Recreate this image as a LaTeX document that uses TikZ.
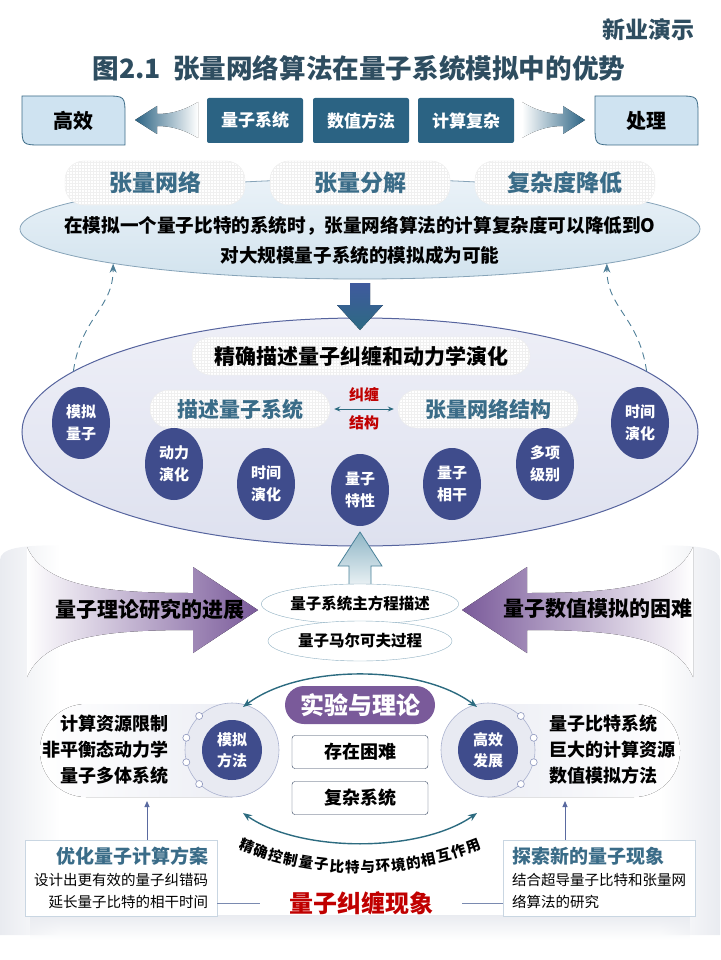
\documentclass[tikz,border=0pt]{standalone}
\usepackage{fontspec}
\setmainfont{Noto Sans CJK SC}
\usetikzlibrary{shapes.geometric,arrows.meta,patterns,positioning,fadings}
\definecolor{slate}{HTML}{2E4D60}
\definecolor{steel}{HTML}{2B6383}
\definecolor{leafblue}{HTML}{CFE3F1}
\definecolor{leafline}{HTML}{3B6A86}
\definecolor{pilltxt}{HTML}{3A6C88}
\definecolor{navy}{HTML}{3F4C8C}
\definecolor{plum}{HTML}{7A5A9A}
\definecolor{arcteal}{HTML}{2C6B80}
\definecolor{deepred}{HTML}{C00000}
\definecolor{ringfill}{HTML}{E8EAF2}
\definecolor{ringline}{HTML}{AAB2CF}
\definecolor{dotline}{HTML}{8D96BD}
\definecolor{ovalline}{HTML}{8FB0C2}
\definecolor{boxline}{HTML}{2D3E5A}
\definecolor{noteline}{HTML}{C9D6E2}
\definecolor{dashblue}{HTML}{4F7F98}
\definecolor{arrblue}{HTML}{5A6AA0}
\definecolor{linkblue}{HTML}{7A8AB0}
\definecolor{tenstop}{HTML}{EAF2F8}
\definecolor{tensbot}{HTML}{D2E3EE}
\definecolor{tensline}{HTML}{86A3B8}
\definecolor{dyntop}{HTML}{EEEFF7}
\definecolor{dynbot}{HTML}{DEE1EF}
\definecolor{dynline}{HTML}{56649E}
\definecolor{downtop}{HTML}{3F5A9E}
\definecolor{downbot}{HTML}{2D6A82}
\definecolor{uptop}{HTML}{8FB6C6}
\definecolor{upline}{HTML}{4A8299}
\definecolor{haze}{HTML}{E9EBF0}
\newcommand{\fsz}[2]{\fontsize{#1}{#2}\selectfont}

\begin{document}
\begin{tikzpicture}[x=1pt, y=-1pt,
  darkbox/.style={fill=steel, text=white, minimum width=96pt, minimum height=45pt,
    rounded corners=2pt, inner sep=0pt, font=\fsz{17}{20}\bfseries},
  pill/.style={rounded corners=19pt, draw=black!8, fill=white,
    postaction={pattern=grid, pattern color=black!6}, inner sep=0pt},
  circ/.style={ellipse, fill=navy, text=white, minimum width=58pt, minimum height=72pt,
    inner sep=0pt, align=center, font=\fsz{15}{22}\bfseries},
  oval/.style={ellipse, draw=ovalline, fill=white, minimum width=184pt, minimum height=40pt,
    inner sep=0pt, font=\fsz{15.5}{18}\bfseries},
  ring/.style={circle, fill=ringfill, draw=ringline, line width=0.6pt, minimum size=94pt, inner sep=0pt},
  dot/.style={circle, draw=dotline, fill=white, line width=0.6pt, minimum size=7pt, inner sep=0pt},
  smallbox/.style={draw=boxline, fill=white, rounded corners=3pt, minimum width=136pt,
    minimum height=33pt, inner sep=0pt, font=\fsz{18}{20}\bfseries},
  notebox/.style={draw=noteline, fill=white, line width=0.8pt, minimum width=192pt,
    minimum height=76pt, inner xsep=9pt, font=\fsz{14.5}{22}},
  dasharr/.style={draw=dashblue, dash pattern=on 7pt off 5pt, line width=0.9pt,
    -{Stealth[length=9pt,width=7pt]}},
  arcarr/.style={draw=arcteal, line width=1.4pt,
    {Stealth[length=9pt,width=7pt]}-{Stealth[length=9pt,width=7pt]}},
  uparr/.style={draw=arrblue, line width=0.9pt, -{Triangle[length=6pt,width=5pt]}},
  link/.style={draw=linkblue, line width=0.9pt}
]
\useasboundingbox (0,0) rectangle (720,960);

\newcommand\leafnode[3]{%
  \draw[fill=leafblue, draw=leafline, line width=0.8pt] ({#2-51.5},96) -- ({#2+31.5},96)
    .. controls ({#2+51.5},96) .. ({#2+51.5},116) -- ({#2+51.5},145) -- ({#2-31.5},145)
    .. controls ({#2-51.5},145) .. ({#2-51.5},125) -- cycle;
  \node[font=\fsz{20}{24}\bfseries] (#1) at (#2,120.5) {#3};}

%% lower background haze
\fill[haze, path fading=east] (0,560) .. controls (0,548) and (20,545) .. (60,545) -- (60,935) -- (0,935) -- cycle;
\fill[haze, path fading=west] (720,560) .. controls (720,548) and (700,545) .. (660,545) -- (660,935) -- (720,935) -- cycle;
\fill[haze, path fading=south] (30,915) rectangle (690,940);

%% title
\node[font=\fsz{23}{26}\bfseries, text=slate] (brand) at (648,30) {新业演示};
\node[font=\fsz{26.6}{30}\bfseries, text=slate] (title) at (359,68) {图2.1\ \ 张量网络算法在量子系统模拟中的优势};

%% top row
\leafnode{eff}{73.5}{高效}
\leafnode{proc}{646.5}{处理}
\node[darkbox] (qsys) at (255,120.5) {量子系统};
\node[darkbox] (nmeth) at (361,120.5) {数值方法};
\node[darkbox] (ccomp) at (466,120.5) {计算复杂};
\fill[left color=steel, middle color=steel!85, right color=white] (135,120) -- (157,106) -- (157,114)
  .. controls (175,114) and (188,108) .. (198,102) -- (198,138)
  .. controls (188,132) and (175,126) .. (157,126) -- (157,134) -- cycle; % to eff
\fill[left color=white, middle color=steel!85, right color=steel] (585,120) -- (563,106) -- (563,114)
  .. controls (545,114) and (532,108) .. (522,102) -- (522,138)
  .. controls (532,132) and (545,126) .. (563,126) -- (563,134) -- cycle; % to proc

%% tensor ellipse
\node[ellipse, minimum width=680pt, minimum height=100pt, top color=tenstop,
  bottom color=tensbot, draw=tensline, line width=0.8pt] (tens) at (360,229) {};
\node[pill, minimum width=180pt, minimum height=44pt, text=pilltxt, font=\fsz{23}{26}\bfseries] (tnet) at (155,183) {张量网络};
\node[pill, minimum width=180pt, minimum height=44pt, text=pilltxt, font=\fsz{23}{26}\bfseries] (tdec) at (360,183) {张量分解};
\node[pill, minimum width=180pt, minimum height=44pt, text=pilltxt, font=\fsz{23}{26}\bfseries] (cred) at (565,183) {复杂度降低};
\node[font=\fsz{18.6}{30}\bfseries, align=center] (tenstxt) at (360,240)
  {在模拟一个量子比特的系统时，张量网络算法的计算复杂度可以降低到O\\对大规模量子系统的模拟成为可能};

%% dynamics ellipse
\node[ellipse, minimum width=676pt, minimum height=228pt, top color=dyntop,
  bottom color=dynbot, draw=dynline, line width=1pt] (dyn) at (360,432) {};
\draw[dasharr] (dyn.168) .. controls +(8,-55) and +(0,45) .. (tens.188); % up left
\draw[dasharr] (dyn.12) .. controls +(-8,-55) and +(0,45) .. (tens.352); % up right
\fill[top color=downtop, bottom color=downbot] (350,283) -- (370,283) -- (370,305)
  -- (383,305) -- (360,330) -- (337,305) -- (350,305) -- cycle; % tens -> dyn

\node[pill, minimum width=338pt, minimum height=38pt, font=\fsz{21}{24}\bfseries] (exact) at (361,356) {精确描述量子纠缠和动力学演化};
\node[pill, minimum width=180pt, minimum height=38pt, text=pilltxt, font=\fsz{21}{24}\bfseries] (desc) at (240,409) {描述量子系统};
\node[pill, minimum width=180pt, minimum height=38pt, text=pilltxt, font=\fsz{21}{24}\bfseries] (tstr) at (488,409) {张量网络结构};
\draw[draw=arcteal, line width=1pt, {Stealth[length=6pt,width=5pt]}-{Stealth[length=6pt,width=5pt]},
  shorten <=4pt, shorten >=4pt] (desc.east) -- node[above=3pt, text=deepred, font=\fsz{15}{16}\bfseries] (entl) {纠缠}
  node[below=3pt, text=deepred, font=\fsz{15}{16}\bfseries] (strl) {结构} (tstr.west);

\foreach \nm/\px/\py/\txt in {sq/81/423/{模拟\\量子}, de/174/464/{动力\\演化}, te/266/484/{时间\\演化},
  qp/360/490/{量子\\特性}, qc/452/484/{量子\\相干}, ml/545/464/{多项\\级别}, tr/640/423/{时间\\演化}}
  \node[circ] (\nm) at (\px,\py) {\txt};

%% middle arrows
\draw[top color=uptop, bottom color=white, draw=upline, line width=0.8pt]
  (349,598) -- (349,566) -- (338,566) -- (360,532) -- (382,566) -- (371,566) -- (371,598) -- cycle; % up to dyn
\fill[left color=white, right color=plum] (27,547) .. controls (45,588) and (110,593) .. (193,593)
  -- (193,567) -- (258,610) -- (193,653) -- (193,630) .. controls (110,630) and (45,635) .. (27,677) -- cycle;
\fill[left color=plum, right color=white] (693,547) .. controls (675,588) and (610,593) .. (527,593)
  -- (527,567) -- (462,610) -- (527,653) -- (527,630) .. controls (610,630) and (675,635) .. (693,677) -- cycle;
\node[font=\fsz{21}{24}\bfseries] (theory) at (150,609) {量子理论研究的进展};
\node[font=\fsz{21}{24}\bfseries] (numer) at (598,609) {量子数值模拟的困难};
\node[oval] (master) at (360,604) {量子系统主方程描述};
\node[oval] (markov) at (360,641) {量子马尔可夫过程};

%% lower panels
\fill[left color=white, right color=ringfill, rounded corners=46pt] (40,704) rectangle (278,797);
\fill[left color=ringfill, right color=white, rounded corners=46pt] (442,704) rectangle (680,797);
\node[ring] (lring) at (232,750) {};
\node[ring] (rring) at (488,750) {};
\node[circle, fill=navy, text=white, minimum size=60pt, inner sep=0pt, align=center,
  font=\fsz{15}{21}\bfseries] (simm) at (232,750) {模拟\\方法};
\node[circle, fill=navy, text=white, minimum size=60pt, inner sep=0pt, align=center,
  font=\fsz{15}{21}\bfseries] (effd) at (488,750) {高效\\发展};
\foreach \a in {134,165,195,226} \node[dot] (ld\a) at (lring.\a) {};
\foreach \a in {46,15,-15,-46} \node[dot] (rd\a) at (rring.\a) {};
\node[font=\fsz{18}{26}\bfseries, align=right, anchor=east] (lres) at (172,750)
  {计算资源限制\\非平衡态动力学\\量子多体系统};
\node[font=\fsz{18}{26}\bfseries, align=left, anchor=west] (rres) at (546,750)
  {量子比特系统\\巨大的计算资源\\数值模拟方法};

\node[rounded corners=19pt, fill=plum, text=white, minimum width=150pt, minimum height=38pt,
  inner sep=0pt, font=\fsz{24}{26}\bfseries] (expth) at (360,705) {实验与理论};
\node[smallbox] (diff) at (360,752) {存在困难};
\node[smallbox] (cplx) at (360,798) {复杂系统};

\coordinate (tl) at (243,707);
\coordinate (tr2) at (477,707);
\coordinate (bl) at (243,813);
\coordinate (br) at (477,813);
\draw[arcarr] (tl) .. controls +(57,-43) and +(-57,-43) .. (tr2);
\draw[arcarr] (bl) .. controls +(57,40) and +(-57,40) .. (br);

\foreach \ch [count=\i from 0] in {精,确,控,制,量,子,比,特,与,环,境,的,相,互,作,用}
  \node[font=\fsz{14.5}{15}\bfseries, inner sep=0pt, rotate={-20.7+\i*2.76}] (ct\i)
    at ({360+320*sin(-20.7+\i*2.76)},{547+320*cos(-20.7+\i*2.76)}) {\ch};

%% notes
\node[notebox, align=right] (lopt) at (121,878)
  {{\fsz{19}{22}\bfseries\color{pilltxt}优化量子计算方案}\\设计出更有效的量子纠错码\\延长量子比特的相干时间};
\node[notebox, align=left] (ropt) at (599,878)
  {{\fsz{19}{22}\bfseries\color{pilltxt}探索新的量子现象}\\结合超导量子比特和张量网\\络算法的研究};
\coordinate (lup) at (147,801);
\coordinate (rup) at (565,801);
\draw[uparr] (lopt.north -| lup) -- (lup);
\draw[uparr] (ropt.north -| rup) -- (rup);
\node[font=\fsz{24}{28}\bfseries, text=deepred, inner xsep=29pt] (ent) at (361,903) {量子纠缠现象};
\draw[link] (ent.west) -- (ent.west -| lopt.east);
\draw[link] (ent.east) -- (ent.east -| ropt.west);

\end{tikzpicture}
\end{document}
